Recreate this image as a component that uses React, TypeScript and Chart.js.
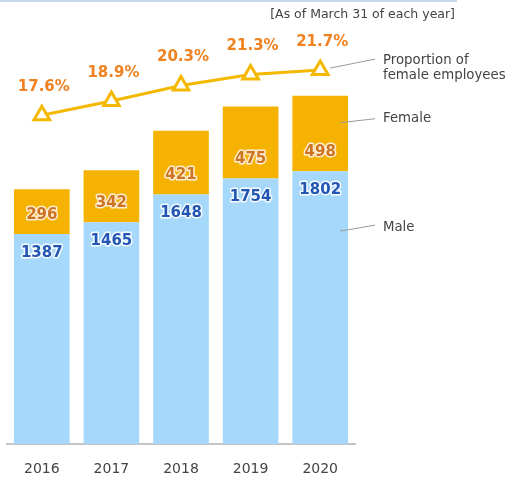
import React, { useEffect, useRef } from "react";
import { Chart, registerables } from "chart.js";

Chart.register(...registerables);

const years = ["2016", "2017", "2018", "2019", "2020"];
const male = [1387, 1465, 1648, 1754, 1802];
const female = [296, 342, 421, 475, 498];
const femaleRatio = [17.6, 18.9, 20.3, 21.3, 21.7];
const noteText = "[As of March 31 of each year]";
const ratioLabel = ["Proportion of", "female employees"];
const femaleLabel = "Female";
const maleLabel = "Male";

const FONT = "'DejaVu Sans', Verdana, sans-serif";
const MALE_COLOR = "#a6d8fc";
const FEMALE_COLOR = "#f5b200";
const LINE_COLOR = "#f5b800";

const labelPlugin = {
  id: "labels",
  afterDatasetsDraw(chart: any) {
    const ctx = chart.ctx as CanvasRenderingContext2D;
    const area = chart.chartArea;
    const maleMeta = chart.getDatasetMeta(0);
    const femMeta = chart.getDatasetMeta(1);
    const lineMeta = chart.getDatasetMeta(2);
    ctx.save();

    // top decorative line
    ctx.strokeStyle = "#c5d6ef";
    ctx.lineWidth = 2;
    ctx.beginPath();
    ctx.moveTo(0, 1);
    ctx.lineTo(area.right + 102, 1);
    ctx.stroke();

    // note
    ctx.font = `12.5px ${FONT}`;
    ctx.fillStyle = "#444";
    ctx.textAlign = "right";
    ctx.textBaseline = "middle";
    ctx.fillText(noteText, area.right + 100, 15);

    // bar labels
    ctx.font = `bold 15px ${FONT}`;
    ctx.textAlign = "center";
    ctx.lineJoin = "round";
    maleMeta.data.forEach((el: any, i: number) => {
      const y = el.y;
      ctx.lineWidth = 3;
      ctx.strokeStyle = "rgba(255,255,255,0.9)";
      ctx.strokeText(String(male[i]), el.x, y + 19);
      ctx.fillStyle = "#2456b4";
      ctx.fillText(String(male[i]), el.x, y + 19);
      ctx.strokeStyle = "rgba(255,240,220,0.95)";
      ctx.strokeText(String(female[i]), el.x, y - 19);
      ctx.fillStyle = "#cc7422";
      ctx.fillText(String(female[i]), el.x, y - 19);
    });

    // percent labels
    ctx.fillStyle = "#f08222";
    lineMeta.data.forEach((el: any, i: number) => {
      ctx.fillText(femaleRatio[i].toFixed(1) + "%", el.x + 2, el.y - 28);
    });

    // right side annotations
    const textX = area.right + 28;
    const lineEnd = area.right + 20;
    ctx.strokeStyle = "#9a9a9a";
    ctx.lineWidth = 1;
    ctx.font = `13.3px ${FONT}`;
    ctx.fillStyle = "#444";
    ctx.textAlign = "left";

    const lp = lineMeta.data[lineMeta.data.length - 1];
    ctx.beginPath();
    ctx.moveTo(lp.x + 10, lp.y - 2);
    ctx.lineTo(lineEnd, lp.y - 11);
    ctx.stroke();
    ctx.fillText(ratioLabel[0], textX, lp.y - 10);
    ctx.fillText(ratioLabel[1], textX, lp.y + 5);

    const fb = femMeta.data[femMeta.data.length - 1];
    ctx.beginPath();
    ctx.moveTo(fb.x + 20, fb.y + 27);
    ctx.lineTo(lineEnd, fb.y + 23);
    ctx.stroke();
    ctx.fillText(femaleLabel, textX, fb.y + 23);

    const mb = maleMeta.data[maleMeta.data.length - 1];
    ctx.beginPath();
    ctx.moveTo(mb.x + 20, mb.y + 60);
    ctx.lineTo(lineEnd, mb.y + 54);
    ctx.stroke();
    ctx.fillText(maleLabel, textX, mb.y + 56);

    ctx.restore();
  },
};

export default function App() {
  const ref = useRef<HTMLCanvasElement | null>(null);
  useEffect(() => {
    if (!ref.current) return;
    const chart = new Chart(ref.current, {
      type: "bar",
      data: {
        labels: years,
        datasets: [
          {
            type: "bar",
            label: "Male",
            data: male,
            backgroundColor: MALE_COLOR,
            stack: "s",
            yAxisID: "y",
            order: 2,
            barPercentage: 0.8,
            categoryPercentage: 1,
          },
          {
            type: "bar",
            label: "Female",
            data: female,
            backgroundColor: FEMALE_COLOR,
            stack: "s",
            yAxisID: "y",
            order: 2,
            barPercentage: 0.8,
            categoryPercentage: 1,
          },
          {
            type: "line",
            label: "Proportion of female employees",
            data: femaleRatio,
            yAxisID: "y2",
            borderColor: LINE_COLOR,
            borderWidth: 3,
            tension: 0,
            pointStyle: "triangle",
            pointRadius: 9,
            pointBorderWidth: 3,
            pointBackgroundColor: "#ffffff",
            pointBorderColor: LINE_COLOR,
            order: 0,
          } as any,
        ],
      },
      options: {
        responsive: false,
        animation: false,
        layout: { autoPadding: false, padding: { left: 7, right: 151, top: 20, bottom: 0 } },
        plugins: {
          legend: { display: false },
          tooltip: { enabled: false },
        },
        scales: {
          x: {
            stacked: true,
            grid: { display: false, drawTicks: false },
            border: { display: true, color: "#c4c4c4", width: 2 },
            ticks: {
              padding: 17,
              color: "#444",
              font: { family: FONT, size: 14 },
            },
            afterFit: (scale: any) => {
              scale.height = 33;
              scale.paddingLeft = 0;
              scale.paddingRight = 0;
            },
          },
          y: {
            stacked: true,
            display: false,
            min: 0,
            max: 2800,
          },
          y2: {
            display: false,
            min: -12.25,
            max: 26.25,
          },
        },
      },
      plugins: [labelPlugin],
    });
    return () => chart.destroy();
  }, []);
  return (
    <div style={{ position: "fixed", left: 0, top: 0, width: 506, height: 477, background: "#fff" }}>
      <canvas ref={ref} width={506} height={477} />
    </div>
  );
}
